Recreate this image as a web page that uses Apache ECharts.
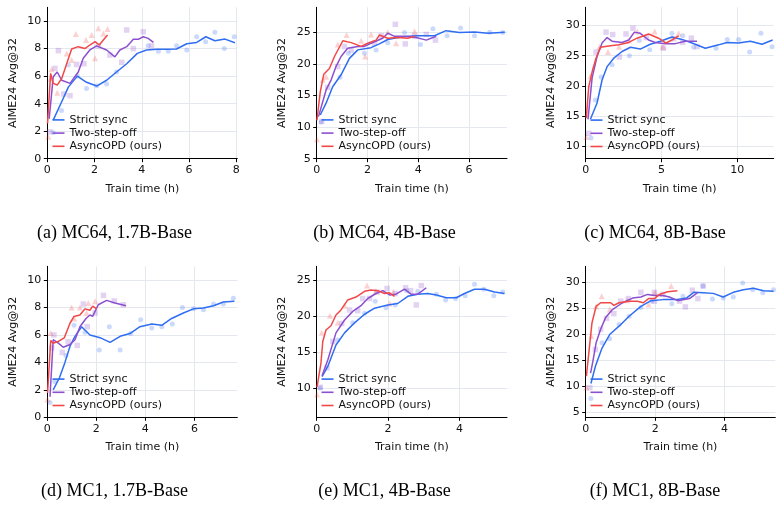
<!DOCTYPE html>
<html><head><meta charset="utf-8">
<script src="https://cdn.jsdelivr.net/npm/echarts@6/dist/echarts.min.js"></script>
<style>html,body{margin:0;padding:0;background:#fff}#c{width:783px;height:506px}</style>
</head><body><div id="c"></div>
<script>
// ---------- DATA ----------
const seriesNames = ['Strict sync', 'Two-step-off', 'AsyncOPD (ours)'];
const captions = ['(a) MC64, 1.7B-Base', '(b) MC64, 4B-Base', '(c) MC64, 8B-Base',
                  '(d) MC1, 1.7B-Base', '(e) MC1, 4B-Base', '(f) MC1, 8B-Base'];
const xLabel = 'Train time (h)';
const yLabel = 'AIME24 Avg@32';

// tick values per panel
const xTicksA = [0, 2, 4, 6, 8], yTicksA = [0, 2, 4, 6, 8, 10];
const xTicksB = [0, 2, 4, 6],    yTicksB = [5, 10, 15, 20, 25];
const xTicksC = [0, 5, 10],      yTicksC = [10, 15, 20, 25, 30];
const xTicksD = [0, 2, 4, 6],    yTicksD = [0, 2, 4, 6, 8, 10];
const xTicksE = [0, 2, 4],       yTicksE = [10, 15, 20, 25];
const xTicksF = [0, 2, 4],       yTicksF = [5, 10, 15, 20, 25, 30];

// axis ranges per panel [xMin, xMax, yMin, yMax]
const rangeA = [0, 8.04, 0, 11];
const rangeB = [0, 7.5, 5, 29];
const rangeC = [0, 12.4, 8, 33];
const rangeD = [0, 7.75, 0, 11];
const rangeE = [0, 5.33, 5.9, 27];
const rangeF = [0, 5.46, 4, 33];

// (a) MC64, 1.7B-Base
const A_sync_line = [[0.25,2.8],[0.6,4.1],[0.89,5.2],[1.27,6.0],[1.66,5.55],[2.09,5.28],[2.51,5.7],[2.93,6.3],[3.36,6.9],[3.81,7.65],[4.2,7.9],[4.63,7.95],[5.05,7.95],[5.47,7.97],[5.9,8.35],[6.32,8.45],[6.71,8.86],[7.09,8.57],[7.52,8.69],[7.94,8.43]];
const A_sync_pts  = [[0.25,1.9],[0.6,3.5],[0.89,6.8],[1.27,6.0],[1.66,5.1],[2.09,5.3],[2.51,5.42],[2.93,6.3],[4.27,8.2],[4.7,7.8],[5.12,7.8],[5.47,8.2],[5.9,7.9],[6.32,8.86],[6.7,8.5],[7.09,9.18],[7.49,8.0],[7.91,8.86]];
const A_two_line  = [[0.08,2.9],[0.25,5.95],[0.42,6.3],[0.61,5.7],[0.96,5.47],[1.31,6.3],[1.52,7.3],[1.8,7.9],[2.09,8.2],[2.51,7.9],[2.86,7.4],[3.07,7.9],[3.36,8.14],[3.64,8.67],[3.85,8.67],[4.06,8.86],[4.27,8.74],[4.49,8.45]];
const A_two_pts   = [[0.1,1.96],[0.32,6.56],[0.47,7.85],[0.7,4.7],[0.96,4.58],[1.24,6.85],[1.55,6.9],[2.16,8.2],[2.65,7.53],[3.15,7.0],[3.36,9.35],[3.64,8.0],[4.06,9.22],[4.41,8.2]];
const A_async_line= [[0.01,2.56],[0.14,6.2],[0.25,5.47],[0.42,5.35],[0.61,5.83],[0.82,6.9],[1.03,7.97],[1.31,8.14],[1.59,8.0],[1.8,8.26],[2.02,8.5],[2.2,8.26],[2.37,8.62],[2.55,8.98]];
const A_async_pts = [[0.04,1.6],[0.14,5.8],[0.18,6.5],[0.42,4.8],[0.82,7.65],[1.03,7.17],[1.21,9.06],[1.64,8.62],[1.88,8.98],[2.02,7.29],[2.16,9.47],[2.37,9.1],[2.55,9.42]];

// (b) MC64, 4B-Base
const B_sync_line = [[0.14,11.93],[0.37,13.8],[0.63,16.4],[0.96,18.3],[1.29,20.9],[1.62,22.25],[2.14,22.6],[2.47,23.2],[2.8,23.9],[3.2,24.2],[3.59,24.4],[3.99,24.5],[4.64,24.5],[5.1,25.3],[5.63,25.0],[6.22,25.1],[6.75,24.9],[7.41,25.05]];
const B_sync_pts  = [[0.17,10.8],[0.92,17.9],[1.25,21.7],[1.88,21.7],[2.34,22.25],[2.8,23.4],[3.46,25.0],[4.09,23.1],[4.58,25.6],[5.14,24.5],[5.67,25.7],[6.22,24.5],[6.82,25.05],[7.34,25.0]];
const B_two_line  = [[0.07,11.67],[0.37,15.9],[0.57,17.5],[0.76,19.6],[0.96,21.2],[1.22,22.5],[1.62,22.8],[1.88,22.8],[2.14,23.3],[2.6,24.1],[2.8,24.9],[3.07,24.4],[3.46,24.4],[3.92,24.2],[4.32,23.8],[4.71,24.4]];
const B_two_pts   = [[0.2,10.9],[0.43,16.3],[0.83,19.6],[1.09,22.8],[1.36,22.2],[2.28,23.3],[2.54,24.5],[3.1,26.3],[3.49,23.2],[3.86,24.4],[4.32,24.7],[4.68,23.8]];
const B_async_line= [[0.01,11.1],[0.14,15.6],[0.28,18.4],[0.5,19.3],[0.7,21.2],[1.03,23.7],[1.36,23.4],[1.75,22.8],[2.01,23.3],[2.34,23.8],[2.47,24.6],[2.8,24.1],[3.2,24.2],[3.59,24.1],[3.86,24.4]];
const B_async_pts = [[0.01,8.1],[0.24,17.5],[0.37,18.0],[0.83,23.1],[1.18,24.6],[1.75,23.7],[1.91,21.2],[2.14,24.7],[2.8,25.05],[3.13,23.3],[3.86,25.2]];

// (c) MC64, 8B-Base
const C_sync_line = [[0.31,14.5],[0.75,17.2],[1.08,21.0],[1.41,23.2],[1.85,24.6],[2.4,25.7],[2.95,26.4],[3.6,26.1],[4.26,26.9],[4.92,27.4],[5.69,28.1],[6.35,27.7],[7.01,27.1],[7.89,26.25],[8.77,26.8],[9.32,27.2],[10.09,27.1],[10.86,27.4],[11.63,26.9],[12.33,27.6]];
const C_sync_pts  = [[0.35,11.4],[0.64,17.7],[1.01,21.5],[1.74,23.5],[2.88,25.0],[3.54,27.5],[4.22,26.0],[5.69,28.7],[6.4,28.3],[7.12,26.4],[8.6,26.25],[9.34,27.7],[10.09,27.7],[10.81,25.6],[11.56,28.7],[12.29,26.5]];
const C_two_line  = [[0.15,14.5],[0.42,21.3],[0.75,24.9],[1.08,27.1],[1.41,28.0],[1.74,27.4],[2.4,27.2],[2.84,27.6],[3.21,28.9],[3.6,28.7],[4.15,27.6],[4.59,27.2],[5.25,27.0],[5.91,27.0],[6.57,27.4],[7.34,27.4]];
const C_two_pts   = [[0.2,12.2],[0.68,25.6],[1.34,28.9],[1.78,28.5],[2.22,24.8],[2.66,28.6],[3.12,29.55],[4.0,28.0],[5.12,26.25],[5.8,27.8],[6.4,27.2],[6.97,27.9],[7.34,26.5]];
const C_async_line= [[0.04,14.7],[0.2,19.9],[0.46,22.7],[0.68,24.6],[0.97,26.4],[1.52,26.6],[2.18,26.8],[2.84,27.2],[3.38,27.9],[4.15,28.6],[4.81,27.9],[5.3,27.1],[5.69,27.6],[6.13,28.3]];
const C_async_pts = [[0.05,11.6],[0.31,21.6],[0.9,26.5],[1.47,25.6],[2.2,26.5],[2.84,27.5],[3.4,29.0],[4.55,29.0],[5.1,26.5],[6.13,28.7]];

// (d) MC1, 1.7B-Base
const D_sync_line = [[0.24,2.0],[0.5,2.9],[0.72,4.0],[0.93,5.2],[1.13,5.9],[1.4,6.6],[1.74,6.0],[2.15,5.8],[2.56,5.46],[2.97,5.9],[3.37,6.1],[3.78,6.6],[4.26,6.8],[4.67,6.7],[5.07,7.2],[5.55,7.6],[5.96,7.9],[6.37,7.96],[6.78,8.13],[7.18,8.4],[7.63,8.45]];
const D_sync_pts  = [[0.11,1.07],[0.3,2.6],[0.76,4.5],[1.09,6.7],[1.54,6.2],[2.12,4.9],[2.53,6.6],[2.97,4.9],[3.4,6.1],[3.81,7.1],[4.26,6.5],[4.67,6.6],[5.1,6.8],[5.51,8.0],[5.96,7.9],[6.37,7.84],[6.78,8.25],[7.18,8.25],[7.59,8.67]];
const D_two_line  = [[0.11,1.5],[0.24,5.65],[0.45,5.4],[0.65,5.1],[0.93,5.3],[1.13,5.65],[1.33,6.6],[1.58,7.2],[1.74,7.45],[1.85,7.35],[2.08,8.2],[2.42,8.52],[2.76,8.33],[3.21,8.13]];
const D_two_pts   = [[0.18,5.05],[0.27,6.0],[0.61,4.73],[0.85,5.5],[1.22,5.24],[1.47,8.25],[1.63,6.6],[1.95,7.6],[2.29,8.88],[2.73,8.47],[3.1,8.2]];
const D_async_line= [[0.01,1.77],[0.14,5.6],[0.24,5.4],[0.45,5.53],[0.69,5.78],[0.93,6.87],[1.09,7.35],[1.33,7.45],[1.54,7.9],[1.74,7.8],[1.85,8.1],[2.01,7.9]];
const D_async_pts = [[0.01,1.3],[0.14,6.14],[0.99,8.0],[1.1,7.2],[1.33,8.0],[1.6,7.6],[1.67,8.33],[1.95,8.45]];

// (e) MC1, 4B-Base
const E_sync_line = [[0.15,11.6],[0.31,13.0],[0.54,16.0],[0.78,17.7],[1.06,19.1],[1.34,20.3],[1.62,21.15],[1.99,21.6],[2.27,21.8],[2.55,22.8],[2.83,23.1],[3.11,23.2],[3.35,23.0],[3.63,22.6],[3.91,22.6],[4.14,23.2],[4.42,23.8],[4.7,23.8],[4.98,23.4],[5.26,23.2]];
const E_sync_pts  = [[0.1,10.0],[0.59,16.7],[1.01,19.1],[1.34,20.45],[1.64,22.1],[1.94,21.2],[2.2,21.6],[2.52,23.6],[2.83,23.5],[3.35,23.1],[3.61,22.3],[3.89,22.5],[4.16,22.9],[4.42,24.5],[4.68,23.8],[4.96,22.9],[5.21,23.4]];
const E_two_line  = [[0.15,11.7],[0.31,13.9],[0.54,17.7],[0.78,19.5],[1.01,20.7],[1.24,21.5],[1.43,22.5],[1.66,23.2],[1.85,23.6],[2.04,23.0],[2.22,23.1],[2.46,23.8],[2.64,23.1],[2.83,23.1],[3.07,24.0]];
const E_two_pts   = [[0.1,10.1],[0.29,12.8],[0.45,16.5],[0.7,19.0],[0.92,20.9],[1.15,20.8],[1.29,22.5],[1.48,22.5],[1.69,23.4],[1.97,23.9],[2.2,23.2],[2.49,24.0],[2.63,23.6],[2.79,21.6],[2.93,24.3]];
const E_async_line= [[0.01,10.1],[0.12,13.5],[0.17,16.5],[0.26,18.1],[0.4,18.7],[0.54,20.2],[0.68,20.9],[0.87,22.3],[1.1,22.7],[1.34,23.5],[1.52,23.7],[1.71,23.6],[1.9,23.2],[2.04,23.3],[2.18,22.8]];
const E_async_pts = [[0.01,9.1],[0.14,17.7],[0.37,20.1],[0.59,19.1],[0.78,21.5],[1.41,24.3],[1.66,23.5],[2.04,21.8],[2.15,23.4]];

// (f) MC1, 8B-Base
const F_sync_line = [[0.15,10.5],[0.28,13.8],[0.47,17.3],[0.69,19.9],[0.96,21.5],[1.25,23.4],[1.59,25.3],[1.88,26.4],[2.22,26.6],[2.61,26.6],[2.9,26.9],[3.11,28.0],[3.38,27.9],[3.67,27.8],[3.96,27.1],[4.25,28.0],[4.54,28.5],[4.83,28.8],[5.12,28.3],[5.41,28.2]];
const F_sync_pts  = [[0.15,7.6],[0.47,18.3],[0.69,19.1],[0.96,21.8],[1.25,23.4],[1.59,25.1],[1.9,26.3],[2.48,25.8],[2.8,27.25],[3.38,29.2],[3.65,26.7],[3.96,26.9],[4.25,27.1],[4.52,29.8],[4.81,28.5],[5.1,27.9],[5.41,28.5]];
const F_two_line  = [[0.14,12.5],[0.2,14.5],[0.3,18.3],[0.43,20.9],[0.57,23.1],[0.77,24.7],[1.06,26.0],[1.35,26.9],[1.59,27.1],[1.78,27.6],[1.98,27.4],[2.22,27.4],[2.41,27.1],[2.65,26.4],[2.99,26.8],[3.23,28.0]];
const F_two_pts   = [[0.12,9.7],[0.28,17.0],[0.43,20.9],[0.6,23.0],[0.81,23.9],[1.01,26.3],[1.23,26.8],[1.59,28.0],[1.98,26.3],[1.98,28.0],[2.22,27.6],[2.7,26.3],[2.87,25.2],[3.07,28.4],[3.23,26.8],[3.38,29.2]];
const F_async_line= [[0.02,11.9],[0.09,16.4],[0.18,22.1],[0.3,25.3],[0.43,26.0],[0.62,26.0],[0.72,26.0],[0.81,25.5],[0.96,26.0],[1.25,26.3],[1.49,26.3],[1.66,26.0],[1.81,26.8],[1.98,26.8],[2.12,27.6],[2.36,28.1],[2.64,28.3]];
const F_async_pts = [[0.02,9.7],[0.16,19.6],[0.3,25.3],[0.46,27.25],[0.69,24.7],[1.2,26.5],[1.81,25.65],[2.0,27.9],[2.46,29.2]];

// ---------- LAYOUT / STYLE ----------
const colors = ['#2f6df2', '#8b50cf', '#f24848'];
const ptSymbols = ['circle', 'rect', 'triangle'];
const ptSizes = [5, 5.5, 6];
const FONT = 'DejaVu Sans';

const panels = [
  {lines:[A_sync_line,A_two_line,A_async_line], pts:[A_sync_pts,A_two_pts,A_async_pts], xt:xTicksA, yt:yTicksA, r:rangeA,
   g:{left:47.3, top:7.3, width:190, height:151.4}, lg:{left:52.5, top:113.3}, cap:[114.5, 233]},
  {lines:[B_sync_line,B_two_line,B_async_line], pts:[B_sync_pts,B_two_pts,B_async_pts], xt:xTicksB, yt:yTicksB, r:rangeB,
   g:{left:316.7, top:7.3, width:190.3, height:151.4}, lg:{left:321.5, top:113.3}, cap:[384.5, 233]},
  {lines:[C_sync_line,C_two_line,C_async_line], pts:[C_sync_pts,C_two_pts,C_async_pts], xt:xTicksC, yt:yTicksC, r:rangeC,
   g:{left:585.7, top:7.3, width:188, height:151.4}, lg:{left:590.5, top:113.5}, cap:[655, 233]},
  {lines:[D_sync_line,D_two_line,D_async_line], pts:[D_sync_pts,D_two_pts,D_async_pts], xt:xTicksD, yt:yTicksD, r:rangeD,
   g:{left:47.3, top:266.3, width:190, height:151}, lg:{left:52.5, top:372.5}, cap:[114.5, 491.5]},
  {lines:[E_sync_line,E_two_line,E_async_line], pts:[E_sync_pts,E_two_pts,E_async_pts], xt:xTicksE, yt:yTicksE, r:rangeE,
   g:{left:316.7, top:266.3, width:190.3, height:151}, lg:{left:321.5, top:372.5}, cap:[384.5, 491.5]},
  {lines:[F_sync_line,F_two_line,F_async_line], pts:[F_sync_pts,F_two_pts,F_async_pts], xt:xTicksF, yt:yTicksF, r:rangeF,
   g:{left:585.7, top:266.3, width:189.6, height:151}, lg:{left:590.5, top:372.5}, cap:[655, 491.5]}
];

const grid = [], xAxis = [], yAxis = [], series = [], legend = [], graphic = [];
const gridColor = '#e4e7ed';

panels.forEach((p, i) => {
  grid.push(Object.assign({containLabel:false}, p.g));
  const common = (ticks) => ({
    type:'value', gridIndex:i,
    axisLine:{show:true, onZero:false, lineStyle:{color:'#000', width:1}},
    axisTick:{show:true, length:3.5, customValues:ticks, lineStyle:{color:'#000', width:1}},
    splitLine:{show:true, lineStyle:{color:gridColor, width:1}},
    nameTextStyle:{fontSize:11, color:'#111', fontFamily:FONT}
  });
  xAxis.push(Object.assign(common(p.xt), {
    min:p.r[0], max:p.r[1], name:xLabel, nameLocation:'middle', nameGap:24.5,
    axisLabel:{customValues:p.xt, fontSize:11, color:'#111', fontFamily:FONT, margin:6}
  }));
  yAxis.push(Object.assign(common(p.yt), {
    min:p.r[2], max:p.r[3], name:yLabel, nameLocation:'middle', nameGap:29, nameRotate:90,
    axisLabel:{customValues:p.yt, fontSize:11, color:'#111', fontFamily:FONT, margin:6}
  }));
  for (let k = 0; k < 3; k++) {
    series.push({
      type:'scatter', name:seriesNames[k] + ' (eval)', xAxisIndex:i, yAxisIndex:i,
      data:p.pts[k], symbol:ptSymbols[k], symbolSize:ptSizes[k],
      itemStyle:{color:colors[k], opacity:0.25}, z:1, silent:true
    });
  }
  for (let k = 0; k < 3; k++) {
    series.push({
      type:'line', name:seriesNames[k], xAxisIndex:i, yAxisIndex:i,
      data:p.lines[k], symbol:'none', showSymbol:false, smooth:false,
      lineStyle:{color:colors[k], width:1.5}, itemStyle:{color:colors[k]}, z:3, clip:true
    });
  }
  legend.push({
    data:seriesNames.map((n, k) => ({name:n, icon:'rect', itemStyle:{color:colors[k]}})),
    orient:'vertical', left:p.lg.left, top:p.lg.top,
    itemWidth:12, itemHeight:1.6, itemGap:0, padding:0, selectedMode:false,
    textStyle:{fontSize:11, color:'#111', fontFamily:FONT, lineHeight:13.2}
  });
  graphic.push({
    type:'text', x:p.cap[0], y:p.cap[1],
    style:{text:captions[i], font:'18px "Liberation Serif", "Times New Roman", serif', fill:'#000',
           textAlign:'center', textVerticalAlign:'middle'}
  });
});

const chart = echarts.init(document.getElementById('c'), null, {renderer:'canvas'});
chart.setOption({animation:false, backgroundColor:'#fff', grid, xAxis, yAxis, series, legend, graphic});
</script>
</body></html>
